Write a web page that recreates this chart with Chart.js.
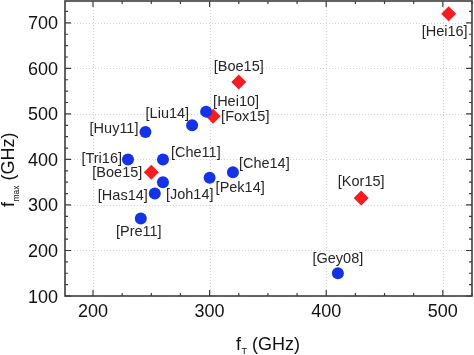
<!DOCTYPE html>
<html>
<head>
<meta charset="utf-8">
<script src="https://cdn.jsdelivr.net/npm/chart.js@4/dist/chart.umd.min.js"></script>
<style>
  html, body { margin: 0; padding: 0; background: #fff; }
  #wrap { width: 474px; height: 355px; position: relative; }
</style>
</head>
<body>
<div id="wrap"><canvas id="c" width="474" height="355"></canvas></div>
<script>
// ---- data ----
const blueRefs = ['Huy11', 'Liu14', 'Hei10', 'Tri16', 'Che11', 'Has14', 'Joh14', 'Pre11', 'Pek14', 'Che14', 'Gey08'];
const blueFt   = [245, 285, 297, 230, 260, 253, 260, 241, 300, 320, 410];
const blueFmax = [460, 475, 505, 400, 400, 325, 350, 270, 360, 372, 150];

const redRefs = ['Hei16', 'Boe15', 'Fox15', 'Boe15', 'Kor15'];
const redFt   = [505, 325, 303, 250, 430];
const redFmax = [720, 570, 495, 372, 315];

const xTickValues = [200, 300, 400, 500];
const yTickValues = [100, 200, 300, 400, 500, 600, 700];

// ---- label placement (style, not data) ----
const blueLabelPlace = [
  {dx: -7, dy: -3, align: 'right'},
  {dx: -3, dy: -11, align: 'right'},
  {dx: 7, dy: -9.5, align: 'left'},
  {dx: -6, dy: 0, align: 'right'},
  {dx: 8, dy: -6, align: 'left'},
  {dx: -7, dy: 2, align: 'right'},
  {dx: 3, dy: 13, align: 'left'},
  {dx: -2, dy: 13, align: 'center'},
  {dx: 6, dy: 10, align: 'left'},
  {dx: 6, dy: -8, align: 'left'},
  {dx: 0, dy: -14, align: 'center'}
];
const redLabelPlace = [
  {dx: -4, dy: 18, align: 'center'},
  {dx: 0, dy: -15, align: 'center'},
  {dx: 8, dy: 0.5, align: 'left'},
  {dx: -9, dy: 1, align: 'right'},
  {dx: 0, dy: -16, align: 'center'}
];

const FONT = '"Liberation Sans", Arial, sans-serif';
const AXIS_COLOR = '#3c3c3c';

const toPoints = (xs, ys) => xs.map((x, i) => ({x: x, y: ys[i]}));

const framePlugin = {
  id: 'frame',
  beforeDatasetsDraw(chart) {
    const {ctx, chartArea: a, scales} = chart;
    // dotted grid
    ctx.save();
    ctx.strokeStyle = '#d4d4d4';
    ctx.lineWidth = 1;
    ctx.setLineDash([1, 2]);
    xTickValues.forEach(v => {
      const px = Math.round(scales.x.getPixelForValue(v)) + 0.5;
      ctx.beginPath(); ctx.moveTo(px, a.top); ctx.lineTo(px, a.bottom); ctx.stroke();
    });
    yTickValues.forEach(v => {
      const py = Math.round(scales.y.getPixelForValue(v)) + 0.5;
      ctx.beginPath(); ctx.moveTo(a.left, py); ctx.lineTo(a.right, py); ctx.stroke();
    });
    ctx.restore();
  },
  afterDraw(chart) {
    const {ctx, chartArea: a, scales} = chart;
    ctx.save();
    ctx.strokeStyle = AXIS_COLOR;
    ctx.lineWidth = 1.6;
    ctx.strokeRect(a.left, a.top, a.right - a.left, a.bottom - a.top);
    ctx.lineWidth = 1.2;
    // x ticks every 25, major every 100 (inward, mirrored on top)
    for (let v = 175; v <= scales.x.max; v += 25) {
      if (v < scales.x.min) continue;
      const px = scales.x.getPixelForValue(v);
      const len = (v % 100 === 0) ? 6 : 3;
      ctx.beginPath();
      ctx.moveTo(px, a.bottom); ctx.lineTo(px, a.bottom - len);
      ctx.moveTo(px, a.top); ctx.lineTo(px, a.top + len);
      ctx.stroke();
    }
    for (let v = 100; v <= scales.y.max; v += 25) {
      const py = scales.y.getPixelForValue(v);
      const len = (v % 100 === 0) ? 6 : 3;
      ctx.beginPath();
      ctx.moveTo(a.left, py); ctx.lineTo(a.left + len, py);
      ctx.moveTo(a.right, py); ctx.lineTo(a.right - len, py);
      ctx.stroke();
    }
    // tick labels
    ctx.fillStyle = '#111';
    ctx.font = '18px ' + FONT;
    ctx.textBaseline = 'alphabetic';
    ctx.textAlign = 'center';
    xTickValues.forEach(v => {
      ctx.fillText(String(v), scales.x.getPixelForValue(v), a.bottom + 20.5);
    });
    ctx.textAlign = 'right';
    yTickValues.forEach(v => {
      ctx.fillText(String(v), a.left - 7, scales.y.getPixelForValue(v) + 6.5);
    });

    // point labels
    ctx.fillStyle = '#262626';
    ctx.font = '14.5px ' + FONT;
    ctx.textBaseline = 'middle';
    const drawLabels = (dsIndex, refs, place) => {
      const meta = chart.getDatasetMeta(dsIndex);
      meta.data.forEach((el, i) => {
        const p = place[i];
        ctx.textAlign = p.align;
        ctx.fillText('[' + refs[i] + ']', el.x + p.dx, el.y + p.dy);
      });
    };
    drawLabels(0, blueRefs, blueLabelPlace);
    drawLabels(1, redRefs, redLabelPlace);

    // axis titles with subscripts
    ctx.fillStyle = '#111';
    ctx.textAlign = 'left';
    ctx.textBaseline = 'alphabetic';
    // x title
    let x = 236;
    const yb = 350;
    ctx.font = '18px ' + FONT;
    ctx.fillText('f', x, yb); x += ctx.measureText('f').width + 0.5;
    ctx.font = '9px ' + FONT;
    ctx.fillText('T', x, yb + 4); x += ctx.measureText('T').width;
    ctx.font = '18px ' + FONT;
    ctx.fillText(' (GHz)', x, yb);
    // y title (rotated)
    ctx.save();
    ctx.translate(14, 207);
    ctx.rotate(-Math.PI / 2);
    let t = 0;
    ctx.font = '18px ' + FONT;
    ctx.fillText('f', t, 0); t += ctx.measureText('f').width + 0.5;
    ctx.font = '8.5px ' + FONT;
    ctx.fillText('max', t, 5); t += ctx.measureText('max').width;
    ctx.font = '18px ' + FONT;
    ctx.fillText(' (GHz)', t, 0);
    ctx.restore();
    ctx.restore();
  }
};

new Chart(document.getElementById('c'), {
  type: 'scatter',
  data: {
    datasets: [
      {
        label: 'HBT',
        data: toPoints(blueFt, blueFmax),
        pointStyle: 'circle',
        pointRadius: 6,
        pointHoverRadius: 6,
        backgroundColor: '#1432e6',
        borderColor: '#1432e6',
        borderWidth: 0
      },
      {
        label: 'HBT (red)',
        data: toPoints(redFt, redFmax),
        pointStyle: 'rectRot',
        pointRadius: 7.5,
        pointHoverRadius: 7.5,
        backgroundColor: '#f51c22',
        borderColor: '#f51c22',
        borderWidth: 0
      }
    ]
  },
  options: {
    responsive: false,
    animation: false,
    events: [],
    layout: { autoPadding: false, padding: { top: 1, right: 2, left: 0, bottom: 0 } },
    plugins: { legend: { display: false }, tooltip: { enabled: false } },
    scales: {
      x: {
        type: 'linear',
        min: 176,
        max: 525,
        afterBuildTicks(scale) { scale.ticks = xTickValues.map(v => ({value: v})); },
        afterFit(scale) { scale.height = 59; },
        grid: { display: false, drawTicks: false },
        border: { display: false },
        ticks: { display: false },
        title: { display: false }
      },
      y: {
        type: 'linear',
        min: 100,
        max: 748,
        afterBuildTicks(scale) { scale.ticks = yTickValues.map(v => ({value: v})); },
        afterFit(scale) { scale.width = 65; },
        grid: { display: false, drawTicks: false },
        border: { display: false },
        ticks: { display: false },
        title: { display: false }
      }
    }
  },
  plugins: [framePlugin]
});
</script>
</body>
</html>
